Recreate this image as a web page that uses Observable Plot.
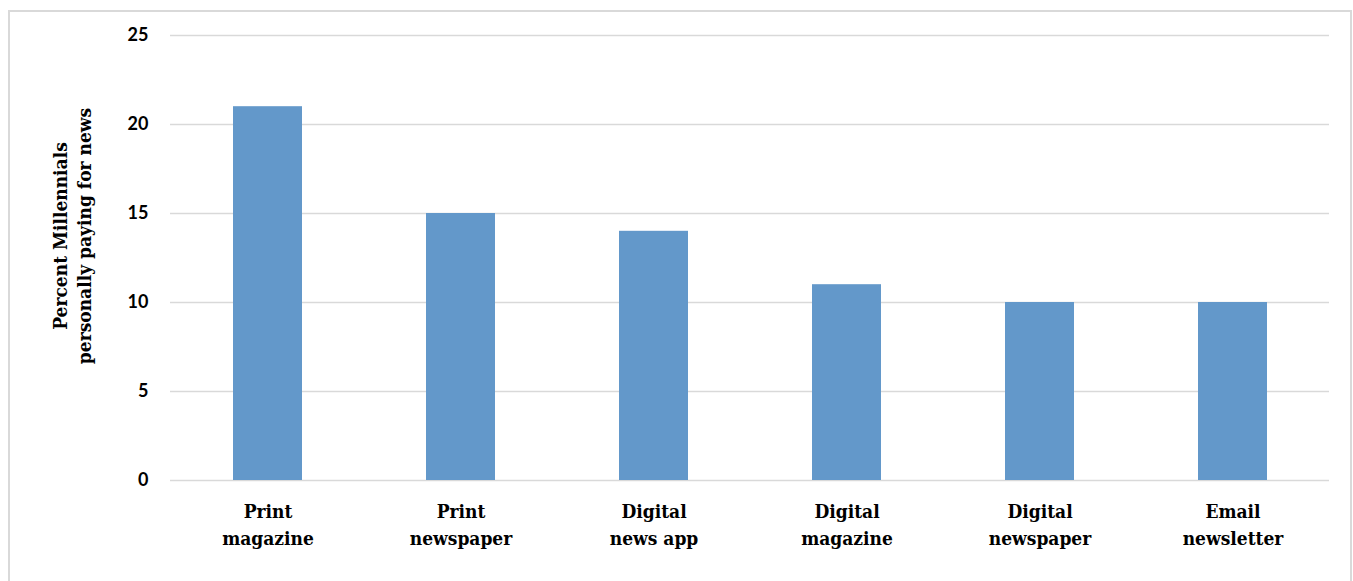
<!DOCTYPE html>
<html>
<head>
<meta charset="utf-8">
<script src="https://cdn.jsdelivr.net/npm/d3@7"></script>
<script src="https://cdn.jsdelivr.net/npm/@observablehq/plot@0.6"></script>
<style>
  html, body { margin: 0; padding: 0; background: #fff; }
  #frame {
    position: absolute; left: 8px; top: 10px;
    width: 1340px; height: 580px;
    border: 2px solid #d9d9d9; box-sizing: content-box;
    background: #fff;
  }
  #frame svg { display: block; }
</style>
</head>
<body>
<div id="frame"></div>
<script>
const categories = ["Print\nmagazine", "Print\nnewspaper", "Digital\nnews app", "Digital\nmagazine", "Digital\nnewspaper", "Email\nnewsletter"];
const values = [21, 15, 14, 11, 10, 10];
const yTicks = [0, 5, 10, 15, 20, 25];
const yLabel = "Percent Millennials\npersonally paying for news";

const data = categories.map((c, i) => ({category: c, value: values[i]}));
const slab = "'DejaVu Serif Condensed', 'DejaVu Serif', serif";

const chart = Plot.plot({
  width: 1340,
  height: 569,
  marginLeft: 160,
  marginRight: 21,
  marginTop: 23,
  marginBottom: 101,
  style: {fontFamily: "Lato, 'Open Sans', sans-serif", fontSize: "18px", color: "#000", background: "#fff"},
  x: {domain: categories, paddingInner: 0.645, paddingOuter: 0.3225, label: null},
  y: {domain: [0, 25], ticks: yTicks, label: null},
  marks: [
    Plot.gridY(yTicks, {stroke: "#d9d9d9", strokeOpacity: 1, strokeWidth: 1.5}),
    Plot.barY(data, {x: "category", y: "value", fill: "#6398ca"}),
    Plot.axisY(yTicks, {tickSize: 0, tickPadding: 22, fontWeight: "bold", fontSize: 18, fill: "#000"}),
    Plot.axisX({tickSize: 0, tickPadding: 18, lineHeight: 1.42, fontSize: 19, fill: "#000",
                fontFamily: slab, fontWeight: "bold"}),
    Plot.text([yLabel], {frameAnchor: "left", textAnchor: "middle", rotate: -90, dx: -99, dy: -22,
                lineHeight: 1.27, fontSize: 19, fontWeight: "bold", fill: "#000", fontFamily: slab})
  ]
});
document.getElementById("frame").appendChild(chart);
</script>
</body>
</html>
